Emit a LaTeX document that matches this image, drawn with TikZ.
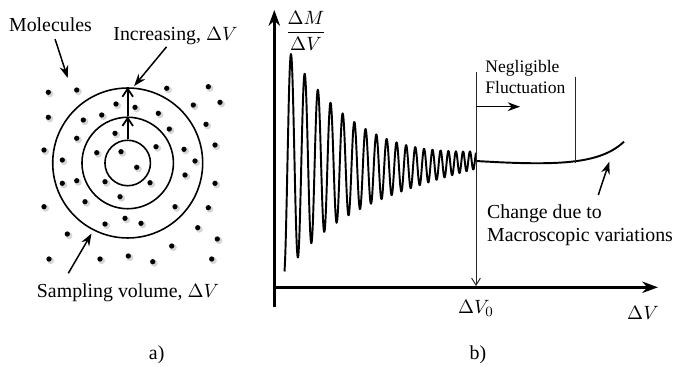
\documentclass[tikz,border=0pt]{standalone}
\usepackage{amsmath}
\usepackage{fontspec}
\setmainfont{Liberation Serif}
\usetikzlibrary{arrows.meta,positioning,calc}

\tikzset{
  lbl/.style={font=\fontsize{11.3}{13.3}\selectfont, inner sep=1pt},
  smalllbl/.style={font=\fontsize{10}{12}\selectfont, inner sep=0pt},
  ring/.style={draw, circle, line width=0.9pt, inner sep=0pt},
  lblarrow/.style={-{Stealth[length=7pt,width=5pt]}, line width=0.85pt},
  growarrow/.style={-{Straight Barb[length=4.5pt,width=6pt]}, line width=1pt},
  axisline/.style={-{Stealth[length=9pt,width=6.5pt]}, line width=1.4pt},
  thinline/.style={line width=0.55pt, black!85},
  wave/.style={line width=1.1pt, line join=round},
}

\begin{document}
\begin{tikzpicture}[x=0.02cm, y=-0.02cm]
    \useasboundingbox (0,0) rectangle (676,367);

    % a) sampling volume among molecules
    \foreach \px/\py in {48.3/92.3, 76.7/90, 166.7/88.3, 208.3/86.7, 220/102.3,
        193.3/105, 116/104, 135/107.3, 158.3/113.3, 48.3/117.3, 83.3/120,
        101.7/115, 169.3/129, 206/124.3, 76.7/138.3, 115/133.3, 44/150,
        62.3/160, 96.7/152.7, 121/151.7, 156/146.7, 184/149.3, 215/145,
        195/161, 136.7/167.3, 62.3/183.3, 76.7/180.7, 105/181.7, 150/182.7,
        185/175, 215/183.3, 120/196.7, 85/201.7, 44/206.7, 175/206.7,
        208.3/207.7, 105/224, 125/218.3, 141/223.3, 197.7/227.7, 67.3/234,
        217.3/239, 171.7/246, 49/259, 100/259, 128.3/256, 152.7/261.7, 211.7/259}{
        \fill[gray!40, opacity=0.8] (\px+1.6,\py+1.6) circle (2pt);
        \fill (\px,\py) circle (1.5pt);
    }
    \node[ring, minimum size=0.91cm] (c1) at (127.7,163) {};
    \node[ring, minimum size=1.83cm] (c2) at (127.7,163) {};
    \node[ring, minimum size=3.0cm] (c3) at (127.7,163) {};
    \draw[growarrow] (c1.north) -- (c2.north);
    \draw[growarrow] (c2.north) -- (c3.north);

    \node[lbl] (mol) at (50.5,25) {Molecules};
    \coordinate (molpt) at (67.7,78);
    \draw[lblarrow, shorten <=3pt] (mol) -- (molpt);
    \node[lbl] (inc) at (175.5,36) {Increasing, $\Delta V$};
    \draw[lblarrow, shorten >=1pt] (inc) -- (c3.86);
    \node[lbl] (samp) at (128,293) {Sampling volume, $\Delta V$};
    \coordinate (sampft) at (68.3,273.3);
    \draw[lblarrow, shorten >=2pt] (sampft) -- (c3.243);
    \node[lbl] (la) at (156.7,355) {a)};

    % b) density against sampling volume
    \coordinate (O) at (274.3,287.3);
    \coordinate (ybot) at (274.3,306.7);
    \coordinate (ytop) at (274.3,10);
    \coordinate (xend) at (658,287.3);
    \draw[axisline] (ybot) -- (ytop);
    \draw[axisline] (O) -- (xend);
    \node[lbl] (dmdv) at (306,31) {$\dfrac{\Delta M}{\Delta V}$};
    \node[lbl] (dv0) at (476,308) {$\Delta V_0$};
    \node[lbl] (dvx) at (643,313) {$\Delta V$};
    \node[lbl] (lb) at (478,355) {b)};

    \draw[wave] plot[domain=-6.5:185, samples=600, variable=\u]
        ({291+\u}, {160+8*sin(0.97*\u) - 106*exp(-0.0135*\u)*cos(8898*ln(14/(14-0.04046*\u)))});
    \draw[wave] (476,161) .. controls (560,166) and (600,164) .. (624,141.7);

    \coordinate (v0top) at (476,72);
    \coordinate (v0) at (476,286);
    \draw[thinline, -{Straight Barb[length=4pt,width=5pt]}] (v0top) -- (v0);
    \coordinate (fl0) at (476,106.7);
    \coordinate (fl1) at (520,106.7);
    \draw[lblarrow] (fl0) -- (fl1);
    \coordinate (fltop) at (575,76.7);
    \coordinate (flbot) at (575,162.7);
    \draw[thinline] (fltop) -- (flbot);
    \node[smalllbl, align=left, anchor=west] (negl) at (485,77) {Negligible\\Fluctuation};

    \node[lbl, align=left, anchor=west] (chg) at (485,225) {Change due to\\Macroscopic variations};
    \coordinate (chgft) at (598.3,195);
    \coordinate (risept) at (609.3,161.7);
    \draw[lblarrow] (chgft) -- (risept);
\end{tikzpicture}
\end{document}
